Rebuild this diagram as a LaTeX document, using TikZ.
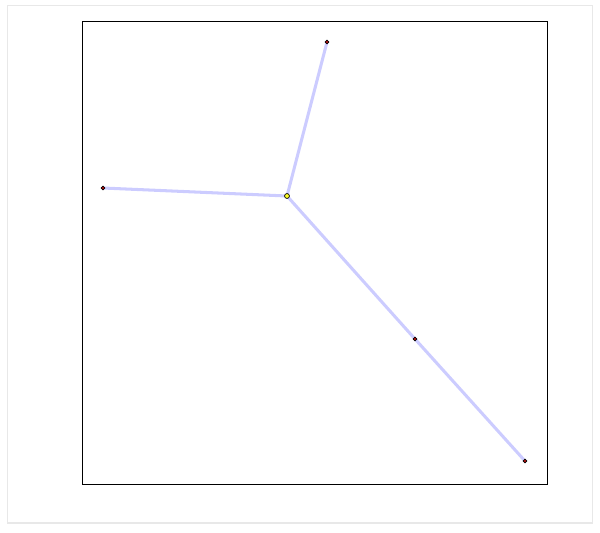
\documentclass[tikz,border=0pt]{standalone}
\usepackage{tikz}
\usetikzlibrary{arrows.meta,positioning,backgrounds}
\definecolor{treeEdge}{RGB}{204,204,255}
\definecolor{treeFrame}{RGB}{232,232,232}
\definecolor{treeLeaf}{RGB}{200,20,20}
\definecolor{treeHub}{RGB}{255,255,40}
\tikzset{
  tleaf/.style={circle, draw=black, fill=treeLeaf, line width=.5pt,
    minimum size=3.2pt, inner sep=0pt},
  thub/.style={circle, draw=black, fill=treeHub, line width=.6pt,
    minimum size=4.2pt, inner sep=0pt},
  tedge/.style={draw=treeEdge, line width=2.6pt, line cap=round},
  tframe/.style={draw=black, line width=.6pt},
  touter/.style={draw=treeFrame, line width=1pt}
}
\begin{document}
\begin{tikzpicture}[x=0.03cm, y=-0.03cm]
\path[use as bounding box] (0,0) rectangle (600,532);

\draw[touter] (7.5,5.5) rectangle (592.5,523);
\draw[tframe] (82,21) rectangle (547,484);

\node[thub] (hub) at (287,196) {};
\node[tleaf] (north) at (327,42) {};
\node[tleaf] (west) at (103,188) {};
\node[tleaf] (mid) at (415,339) {};
\node[tleaf] (south) at (525,461) {};

\begin{scope}[on background layer]
  \draw[tedge] (hub.center) -- (north.center);
  \draw[tedge] (hub.center) -- (west.center);
  \draw[tedge] (hub.center) -- (mid.center);
  \draw[tedge] (mid.center) -- (south.center);
\end{scope}
\end{tikzpicture}
\end{document}
